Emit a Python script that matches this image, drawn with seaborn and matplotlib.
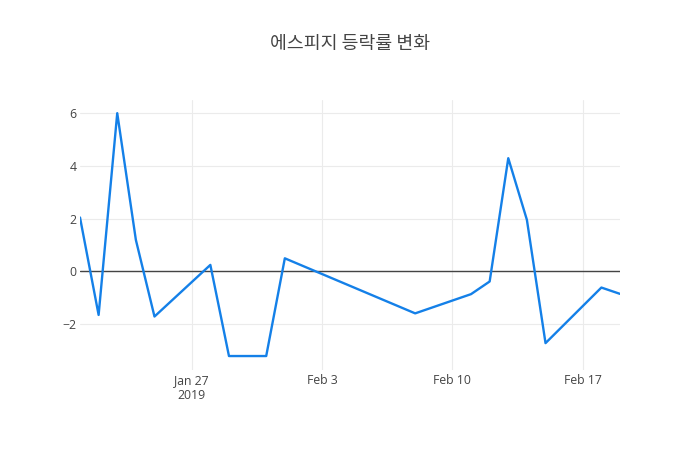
import matplotlib
matplotlib.use("Agg")
import matplotlib.pyplot as plt
import seaborn as sns
import pandas as pd

dates = ["2019-01-21", "2019-01-22", "2019-01-23", "2019-01-24", "2019-01-25",
         "2019-01-28", "2019-01-29", "2019-01-30", "2019-01-31", "2019-02-01",
         "2019-02-08", "2019-02-11", "2019-02-12", "2019-02-13", "2019-02-14",
         "2019-02-15", "2019-02-18", "2019-02-19"]
rates = [2.04, -1.66, 6.0, 1.19, -1.72,
         0.24, -3.22, -3.22, -3.22, 0.49,
         -1.6, -0.87, -0.39, 4.29, 1.95,
         -2.73, -0.62, -0.86]
xtick_dates = ["2019-01-27", "2019-02-03", "2019-02-10", "2019-02-17"]
xtick_labels = ["Jan 27\n2019", "Feb 3", "Feb 10", "Feb 17"]
ytick_vals = [-2, 0, 2, 4, 6]
title = "에스피지 등락률 변화"

df = pd.DataFrame({"date": pd.to_datetime(dates), "rate": rates})

sns.set_style("white")
plt.rcParams["font.family"] = ["Open Sans", "Noto Sans CJK KR", "DejaVu Sans"]
plt.rcParams["axes.unicode_minus"] = True

fig = plt.figure(figsize=(7, 4.5), dpi=100)
ax = fig.add_axes([80/700, 80/450, 540/700, 270/450])

sns.lineplot(data=df, x="date", y="rate", ax=ax, color="#1480e8", linewidth=1.7, zorder=3)

ax.axhline(0, color="#444444", linewidth=1, zorder=2)
ax.set_xlim(df["date"].min(), df["date"].max())
ax.set_ylim(-3.75, 6.5)

ax.set_xticks(pd.to_datetime(xtick_dates))
ax.set_xticklabels(xtick_labels)
ax.set_yticks(ytick_vals)
ax.set_yticklabels([str(v).replace("-", "\u2212") for v in ytick_vals])

ax.grid(True, color="#ebebeb", linewidth=0.8, zorder=0)
ax.set_axisbelow(True)
for s in ax.spines.values():
    s.set_visible(False)
ax.tick_params(axis="both", length=0, labelsize=8.8, colors="#444444")
ax.tick_params(axis="x", pad=3)
ax.tick_params(axis="y", pad=2.5)
ax.set_xlabel("")
ax.set_ylabel("")

fig.text(0.5, 1 - 44/450, title, ha="center", va="center", fontsize=13.2,
         color="#444444", family=["Noto Sans CJK KR", "DejaVu Sans"])

fig.savefig("out.png", dpi=100, facecolor="white")
